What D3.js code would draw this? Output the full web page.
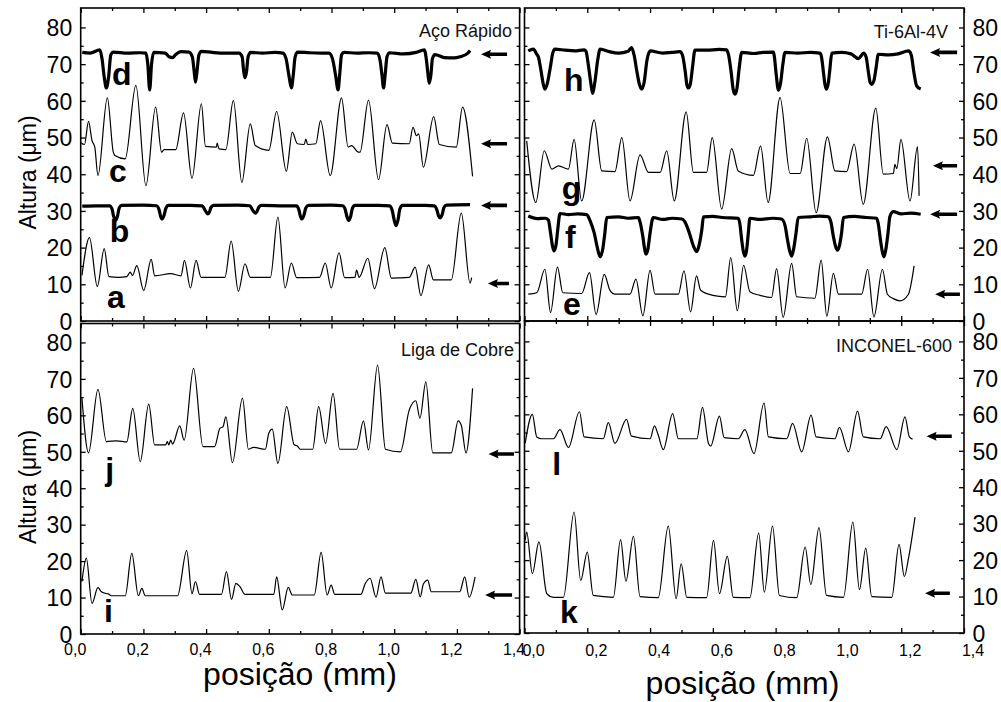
<!DOCTYPE html>
<html><head><meta charset="utf-8">
<script src="https://cdn.jsdelivr.net/npm/d3@7"></script>
<style>body{margin:0;background:#fff}svg{display:block}</style>
</head><body>
<svg id="c" width="1001" height="702"></svg>
<script>
// ---------------- DATA ----------------
const xMajor = [0,0.2,0.4,0.6,0.8,1.0,1.2,1.4];
const xMinor = [0.1,0.3,0.5,0.7,0.9,1.1,1.3];
const xTickLabels = ["0,0","0,2","0,4","0,6","0,8","1,0","1,2","1,4"];
const yMajor = [0,10,20,30,40,50,60,70,80];
const yMinor = [5,15,25,35,45,55,65,75];
const yTickLabels = ["0","10","20","30","40","50","60","70","80"];
const panelTitles = ["Aço Rápido","Ti-6Al-4V","Liga de Cobre","INCONEL-600"];
const xTitle = "posição (mm)";
const yTitle = "Altura (μm)";

// Aço Rápido
const traceA = [[0.004,12.4],[0.028,22.7],[0.053,9.4],[0.075,19.7],[0.090,12.1],[0.120,11.9],[0.147,12.1],[0.158,13.3],[0.165,12.4],[0.179,15.1],[0.201,8.3],[0.225,16.8],[0.236,12.3],[0.287,12.9],[0.320,12.3],[0.331,16.5],[0.350,9.0],[0.368,16.5],[0.384,11.9],[0.460,11.9],[0.480,21.8],[0.503,8.1],[0.524,15.6],[0.541,11.9],[0.605,11.9],[0.629,28.3],[0.652,9.0],[0.672,15.8],[0.689,11.8],[0.762,11.9],[0.780,15.8],[0.799,9.0],[0.824,18.6],[0.842,11.8],[0.875,11.9],[0.880,13.9],[0.888,11.9],[0.916,17.1],[0.937,8.8],[0.970,20.0],[0.991,11.7],[1.048,11.9],[1.067,14.7],[1.085,6.9],[1.110,15.3],[1.125,11.2],[1.182,11.2],[1.214,29.4],[1.242,10.3],[1.247,11.8]];
const traceB = [[0.005,31.3],[0.05,31.4],[0.092,31.4],[0.100,30.5],[0.105,28.5],[0.111,27.4],[0.117,28.5],[0.123,30.8],[0.130,31.5],[0.20,31.6],[0.242,31.4],[0.250,30.3],[0.255,28.5],[0.260,27.8],[0.266,28.8],[0.272,30.8],[0.280,31.5],[0.35,31.5],[0.388,31.4],[0.396,30.3],[0.401,29.6],[0.405,29.2],[0.410,29.6],[0.416,31.0],[0.424,31.5],[0.50,31.6],[0.540,31.4],[0.548,30.3],[0.553,29.7],[0.557,29.4],[0.562,29.8],[0.568,31.0],[0.576,31.5],[0.65,31.4],[0.688,31.4],[0.696,30.3],[0.701,28.5],[0.706,27.8],[0.712,28.8],[0.718,30.8],[0.726,31.5],[0.80,31.6],[0.836,31.4],[0.844,30.3],[0.849,28.5],[0.855,27.4],[0.861,28.5],[0.867,30.8],[0.875,31.5],[0.95,31.5],[0.986,31.4],[0.994,30.0],[1.000,27.5],[1.006,26.0],[1.012,27.5],[1.018,30.5],[1.026,31.5],[1.10,31.5],[1.128,31.4],[1.136,30.3],[1.141,28.8],[1.147,28.1],[1.153,29.0],[1.159,31.0],[1.167,31.6],[1.242,31.7]];
const traceC = [[0.0,48.6],[0.012,48.1],[0.025,54.4],[0.036,49.2],[0.045,47.4],[0.055,39.6],[0.085,60.8],[0.104,46.0],[0.109,45.1],[0.142,44.2],[0.176,64.2],[0.208,36.9],[0.239,58.3],[0.258,46.0],[0.266,46.7],[0.303,46.7],[0.328,56.7],[0.355,38.9],[0.385,59.2],[0.398,47.6],[0.433,47.4],[0.435,48.5],[0.441,46.9],[0.463,46.7],[0.487,60.1],[0.514,37.8],[0.541,53.7],[0.557,47.8],[0.600,46.5],[0.625,57.1],[0.656,40.8],[0.675,51.5],[0.691,48.3],[0.713,48.1],[0.718,49.6],[0.724,48.1],[0.750,48.3],[0.765,54.6],[0.796,39.6],[0.832,60.8],[0.853,47.4],[0.864,47.8],[0.886,46.0],[0.891,46.0],[0.918,60.2],[0.950,38.5],[0.977,53.5],[0.994,48.5],[1.048,48.3],[1.060,52.8],[1.071,50.5],[1.078,51.0],[1.093,41.9],[1.126,55.7],[1.144,48.1],[1.198,47.4],[1.218,58.3],[1.250,39.4]];
const traceD = [[0.005,73.2],[0.03,73.0],[0.061,73.9],[0.068,71.5],[0.075,66.5],[0.082,63.5],[0.089,66.5],[0.096,72.5],[0.104,73.3],[0.15,73.0],[0.19,73.1],[0.208,73.0],[0.214,70.0],[0.220,63.0],[0.226,70.0],[0.233,73.2],[0.27,73.0],[0.282,72.0],[0.293,71.8],[0.303,72.6],[0.32,73.4],[0.345,73.3],[0.356,72.0],[0.362,68.0],[0.366,65.1],[0.371,68.0],[0.377,72.5],[0.385,73.5],[0.42,73.2],[0.46,73.0],[0.505,73.0],[0.515,72.0],[0.520,68.0],[0.524,66.3],[0.529,68.0],[0.534,72.0],[0.542,73.2],[0.58,73.0],[0.62,73.2],[0.645,73.0],[0.655,71.5],[0.664,67.0],[0.672,63.5],[0.678,67.0],[0.684,72.0],[0.692,73.3],[0.73,73.1],[0.77,73.0],[0.792,73.0],[0.803,71.5],[0.813,67.0],[0.821,63.0],[0.826,67.0],[0.832,72.5],[0.840,73.2],[0.88,73.0],[0.92,73.1],[0.946,73.0],[0.955,71.0],[0.961,67.0],[0.966,63.5],[0.971,67.0],[0.977,72.0],[0.985,73.1],[1.03,72.8],[1.07,73.2],[1.096,73.9],[1.103,71.0],[1.108,67.0],[1.112,64.8],[1.117,67.0],[1.122,71.5],[1.130,72.6],[1.16,71.8],[1.19,71.7],[1.21,72.0],[1.235,73.0],[1.242,73.7]];
// Ti-6Al-4V
const traceE = [[0.012,7.3],[0.039,7.7],[0.065,14.1],[0.083,2.3],[0.105,14.7],[0.122,7.7],[0.182,7.5],[0.207,13.2],[0.228,1.8],[0.254,12.7],[0.272,8.4],[0.288,7.3],[0.336,7.3],[0.355,11.4],[0.377,1.4],[0.400,13.8],[0.416,7.3],[0.490,7.3],[0.508,13.7],[0.529,2.5],[0.548,12.3],[0.561,8.4],[0.600,7.0],[0.640,6.6],[0.657,17.3],[0.678,2.8],[0.698,15.2],[0.718,8.0],[0.750,7.0],[0.787,6.4],[0.803,14.3],[0.824,1.0],[0.851,15.7],[0.867,6.6],[0.925,6.2],[0.945,16.6],[0.963,1.3],[0.984,13.0],[1.000,7.3],[1.074,7.3],[1.093,14.1],[1.113,1.1],[1.140,14.1],[1.156,7.3],[1.175,6.1],[1.196,5.5],[1.223,7.3],[1.241,15.0]];
const traceF = [[0.012,28.6],[0.04,27.9],[0.066,28.0],[0.076,27.5],[0.083,24.0],[0.089,20.5],[0.094,19.1],[0.100,20.5],[0.106,25.0],[0.113,29.3],[0.14,29.0],[0.17,29.2],[0.198,29.0],[0.209,27.3],[0.222,24.0],[0.232,20.0],[0.241,17.5],[0.249,19.5],[0.256,24.0],[0.262,28.2],[0.30,28.4],[0.33,28.0],[0.363,28.2],[0.368,27.0],[0.377,23.0],[0.383,19.5],[0.387,18.2],[0.393,19.5],[0.400,24.0],[0.410,28.2],[0.44,27.7],[0.47,28.0],[0.501,27.8],[0.511,27.0],[0.525,24.0],[0.538,20.5],[0.549,18.9],[0.557,21.0],[0.565,25.0],[0.570,28.4],[0.60,28.5],[0.63,28.2],[0.681,28.0],[0.686,26.5],[0.692,22.0],[0.697,19.0],[0.702,17.7],[0.707,19.0],[0.713,24.0],[0.718,28.0],[0.75,27.7],[0.79,28.0],[0.819,27.8],[0.830,26.0],[0.838,22.0],[0.845,19.0],[0.851,17.7],[0.857,19.5],[0.865,24.0],[0.872,28.2],[0.91,28.4],[0.94,28.6],[0.968,28.4],[0.976,27.0],[0.984,23.0],[0.991,20.3],[0.997,19.3],[1.003,20.5],[1.010,24.0],[1.016,28.2],[1.05,28.5],[1.09,28.2],[1.122,28.0],[1.127,26.5],[1.134,22.0],[1.140,18.8],[1.145,17.5],[1.151,19.5],[1.158,24.0],[1.164,28.5],[1.175,29.8],[1.20,29.2],[1.23,29.4],[1.262,29.1]];
const traceG = [[0.007,49.1],[0.036,32.3],[0.063,46.4],[0.087,41.4],[0.108,42.3],[0.140,41.4],[0.158,49.5],[0.182,32.7],[0.222,54.8],[0.246,40.9],[0.288,40.7],[0.310,50.0],[0.336,32.7],[0.368,45.3],[0.395,40.5],[0.432,40.5],[0.453,46.4],[0.477,32.7],[0.515,57.0],[0.538,40.5],[0.580,40.5],[0.598,50.0],[0.628,30.5],[0.660,47.0],[0.681,40.9],[0.729,39.7],[0.752,47.7],[0.776,32.3],[0.814,60.9],[0.846,40.2],[0.878,40.2],[0.899,49.8],[0.929,29.5],[0.965,50.2],[0.989,40.9],[1.026,40.7],[1.050,48.2],[1.079,31.8],[1.119,58.0],[1.143,40.0],[1.175,40.2],[1.180,42.7],[1.186,41.5],[1.199,49.5],[1.228,32.7],[1.252,47.5],[1.257,34.1]];
const traceH = [[0.012,73.6],[0.028,74.1],[0.039,72.7],[0.044,72.0],[0.052,68.5],[0.060,64.5],[0.065,63.2],[0.072,64.5],[0.082,69.0],[0.090,73.0],[0.097,74.1],[0.13,73.8],[0.16,73.6],[0.19,73.9],[0.196,73.5],[0.203,70.0],[0.211,65.0],[0.217,62.0],[0.224,65.0],[0.233,71.0],[0.241,74.1],[0.27,73.4],[0.30,73.0],[0.33,73.5],[0.341,74.5],[0.349,72.5],[0.358,68.0],[0.366,64.5],[0.373,63.2],[0.381,65.0],[0.390,71.0],[0.400,73.6],[0.44,73.0],[0.47,73.2],[0.495,73.4],[0.503,72.5],[0.512,68.0],[0.517,64.5],[0.522,63.5],[0.528,64.5],[0.535,69.0],[0.543,73.8],[0.58,73.8],[0.62,74.0],[0.644,73.9],[0.650,72.5],[0.658,68.0],[0.665,63.0],[0.671,61.8],[0.677,63.5],[0.684,69.0],[0.692,73.2],[0.73,72.9],[0.76,73.2],[0.793,73.3],[0.796,72.0],[0.802,67.0],[0.809,62.9],[0.816,65.0],[0.823,70.0],[0.830,73.2],[0.87,73.0],[0.91,73.2],[0.941,73.0],[0.946,72.0],[0.952,68.0],[0.957,64.5],[0.961,63.2],[0.967,64.5],[0.972,68.0],[0.979,73.0],[1.01,73.2],[1.04,72.8],[1.064,71.5],[1.08,73.0],[1.088,72.0],[1.096,67.5],[1.101,65.0],[1.106,64.5],[1.113,65.5],[1.120,69.0],[1.127,72.7],[1.16,72.5],[1.19,72.8],[1.223,73.6],[1.232,72.5],[1.240,68.0],[1.249,64.1],[1.262,63.2]];
// Liga de Cobre
const traceI = [[0.004,14.4],[0.018,20.8],[0.036,8.4],[0.055,12.7],[0.066,11.6],[0.077,11.2],[0.088,11.0],[0.098,10.5],[0.142,10.5],[0.163,22.1],[0.184,10.5],[0.195,12.5],[0.206,10.5],[0.309,10.5],[0.338,22.9],[0.355,11.0],[0.366,14.4],[0.379,10.9],[0.449,10.9],[0.465,17.1],[0.481,9.5],[0.495,13.9],[0.508,13.0],[0.524,10.9],[0.616,10.9],[0.625,15.7],[0.643,6.6],[0.662,12.8],[0.675,10.7],[0.745,10.7],[0.767,22.4],[0.786,10.7],[0.799,13.4],[0.810,10.9],[0.894,10.9],[0.907,13.7],[0.923,15.3],[0.942,10.1],[0.958,15.7],[0.972,11.2],[1.053,11.2],[1.069,15.0],[1.083,10.2],[1.093,13.7],[1.107,14.8],[1.118,11.6],[1.209,11.6],[1.225,15.7],[1.239,10.1],[1.258,15.7]];
const traceJ = [[0.004,64.7],[0.025,49.7],[0.055,67.1],[0.082,52.8],[0.115,53.0],[0.147,52.7],[0.166,61.9],[0.190,47.3],[0.217,63.1],[0.236,51.9],[0.271,51.9],[0.276,52.8],[0.281,51.9],[0.287,53.2],[0.293,52.1],[0.316,57.1],[0.330,53.2],[0.360,72.9],[0.390,51.4],[0.427,51.4],[0.444,56.4],[0.454,56.9],[0.463,59.6],[0.484,47.0],[0.516,64.7],[0.535,50.7],[0.551,51.2],[0.589,50.7],[0.600,55.1],[0.611,56.2],[0.629,46.8],[0.657,62.4],[0.681,51.9],[0.691,51.6],[0.700,50.7],[0.740,50.7],[0.759,62.4],[0.781,52.3],[0.805,66.0],[0.826,50.7],[0.880,50.7],[0.902,58.5],[0.918,50.5],[0.947,73.8],[0.972,50.7],[1.020,50.0],[1.048,61.5],[1.069,64.0],[1.082,59.2],[1.101,69.2],[1.123,49.7],[1.182,49.7],[1.204,58.5],[1.214,57.3],[1.229,49.7],[1.250,67.4]];
// INCONEL-600
const traceK = [[0.002,25.4],[0.007,27.7],[0.025,16.3],[0.046,25.0],[0.071,10.8],[0.092,9.8],[0.124,9.8],[0.158,33.2],[0.179,14.4],[0.200,22.2],[0.219,10.3],[0.283,9.8],[0.306,25.6],[0.323,14.2],[0.347,26.5],[0.368,10.0],[0.426,9.7],[0.458,29.3],[0.483,9.4],[0.499,19.0],[0.517,9.8],[0.580,9.7],[0.602,25.4],[0.621,10.8],[0.646,21.0],[0.665,9.8],[0.718,9.7],[0.746,27.4],[0.764,11.2],[0.790,29.3],[0.812,10.3],[0.867,9.7],[0.894,23.6],[0.912,13.3],[0.938,28.9],[0.962,10.3],[1.016,9.8],[1.046,30.4],[1.067,11.9],[1.087,23.3],[1.106,10.0],[1.170,9.8],[1.193,24.3],[1.210,15.5],[1.223,20.4],[1.244,31.8]];
const traceL = [[0.002,52.0],[0.025,60.0],[0.039,53.8],[0.055,53.3],[0.092,53.3],[0.113,55.8],[0.140,50.9],[0.175,60.7],[0.190,53.8],[0.251,53.3],[0.267,57.7],[0.288,52.0],[0.325,58.6],[0.341,54.0],[0.400,53.3],[0.414,56.8],[0.426,54.3],[0.442,50.3],[0.472,60.2],[0.490,53.3],[0.549,53.3],[0.567,61.9],[0.586,52.0],[0.593,51.3],[0.621,59.5],[0.636,53.6],[0.681,53.3],[0.702,55.8],[0.731,49.2],[0.763,63.1],[0.777,53.8],[0.835,53.3],[0.854,57.5],[0.883,49.7],[0.913,59.8],[0.929,53.8],[0.989,53.3],[1.003,56.4],[1.032,49.7],[1.061,60.9],[1.079,53.8],[1.133,53.3],[1.152,56.6],[1.186,50.3],[1.212,59.3],[1.226,53.8],[1.236,53.2]];

// arrows: [tip x, tail x, level]
const arrowsAco = [[1.277,1.360,72.7],[1.277,1.360,48.3],[1.277,1.360,31.5],[1.299,1.366,10.2]];
const arrowsTi = [[1.292,1.378,73.2],[1.301,1.378,42.3],[1.292,1.378,29.1],[1.308,1.387,7.3]];
const arrowsCobre = [[1.301,1.382,49.4],[1.290,1.376,10.7]];
const arrowsInconel = [[1.281,1.361,54.0],[1.276,1.355,10.9]];

// trace letters: [letter, x, y]
const lettersAco = [["d",0.100,64.4],["c",0.090,37.8],["b",0.093,21.5],["a",0.084,3.5]];
const lettersTi = [["h",0.126,62.8],["g",0.119,33.2],["f",0.129,19.8],["e",0.123,1.6]];
const lettersCobre = [["j",0.078,42.2],["i",0.074,3.3]];
const lettersInconel = [["l",0.088,43.3],["k",0.113,2.7]];

// ---------------- LAYOUT ----------------
const FONT = "'Liberation Sans', Arial, Helvetica, sans-serif";
const panels = [
  {left:80.7, right:519.6, top:8, bottom:321, yMax:85.3, yLab:"left", xLab:false, title:panelTitles[0], titleX:512, titleY:37,
   thin:[traceA,traceC], thick:[traceB,traceD], arrows:arrowsAco, letters:lettersAco},
  {left:524.5, right:964, top:8, bottom:321, yMax:85.3, yLab:"right", xLab:false, title:panelTitles[1], titleX:948, titleY:38,
   thin:[traceE,traceG], thick:[traceF,traceH], arrows:arrowsTi, letters:lettersTi},
  {left:80.7, right:519.6, top:323.5, bottom:634, yMax:85.2, yLab:"left", xLab:true, xLabDx:-6, xLabPad:9.6, title:panelTitles[2], titleX:514, titleY:356,
   thin:[traceI,traceJ], thick:[], arrows:arrowsCobre, letters:lettersCobre},
  {left:524.5, right:964, top:321, bottom:633, yMax:85.6, yLab:"right", xLab:true, xLabDx:8.5, xLabPad:12, title:panelTitles[3], titleX:952, titleY:351.5,
   thin:[traceK,traceL], thick:[], arrows:arrowsInconel, letters:lettersInconel}
];

const svg = d3.select("#c");
svg.append("rect").attr("width",1001).attr("height",702).attr("fill","#fff");

function tickAxis(g, axis, tr){
  const a = g.append("g").attr("transform",tr).call(axis);
  a.select(".domain").remove();
  a.selectAll("line").attr("stroke","#000").attr("stroke-width",1.3);
  return a;
}

panels.forEach(p=>{
  const x = d3.scaleLinear().domain([0,1.4]).range([p.left,p.right]);
  const y = d3.scaleLinear().domain([0,p.yMax]).range([p.bottom,p.top]);
  const g = svg.append("g");

  // ticks (inward)
  tickAxis(g, d3.axisBottom(x).tickValues(xMajor).tickSize(-5).tickFormat(""), `translate(0,${p.bottom})`);
  tickAxis(g, d3.axisBottom(x).tickValues(xMinor).tickSize(-3).tickFormat(""), `translate(0,${p.bottom})`);
  tickAxis(g, d3.axisTop(x).tickValues(xMajor).tickSize(-5).tickFormat(""), `translate(0,${p.top})`);
  tickAxis(g, d3.axisTop(x).tickValues(xMinor).tickSize(-3).tickFormat(""), `translate(0,${p.top})`);
  tickAxis(g, d3.axisLeft(y).tickValues(yMajor).tickSize(-5).tickFormat(""), `translate(${p.left},0)`);
  tickAxis(g, d3.axisLeft(y).tickValues(yMinor).tickSize(-3).tickFormat(""), `translate(${p.left},0)`);
  tickAxis(g, d3.axisRight(y).tickValues(yMajor).tickSize(-5).tickFormat(""), `translate(${p.right},0)`);
  tickAxis(g, d3.axisRight(y).tickValues(yMinor).tickSize(-3).tickFormat(""), `translate(${p.right},0)`);

  // frame
  g.append("rect").attr("x",p.left).attr("y",p.top).attr("width",p.right-p.left).attr("height",p.bottom-p.top)
    .attr("fill","none").attr("stroke","#000").attr("stroke-width",1.6);

  // y labels
  const yl = p.yLab==="left"
    ? g.append("g").attr("transform",`translate(${p.left},0)`).call(d3.axisLeft(y).tickValues(yMajor).tickSize(0).tickPadding(8.5).tickFormat((d,i)=>yTickLabels[i]))
    : g.append("g").attr("transform",`translate(${p.right},0)`).call(d3.axisRight(y).tickValues(yMajor).tickSize(0).tickPadding(8.5).tickFormat((d,i)=>yTickLabels[i]));
  yl.select(".domain").remove();
  yl.attr("font-size",23).attr("font-family",FONT);
  yl.selectAll("text").attr("fill","#000").attr("dy","0.36em");

  // x labels
  if (p.xLab){
    const xl = g.append("g").attr("transform",`translate(${p.xLabDx},${p.bottom})`)
      .call(d3.axisBottom(x).tickValues(xMajor).tickSize(0).tickPadding(p.xLabPad).tickFormat((d,i)=>xTickLabels[i]));
    xl.select(".domain").remove();
    xl.attr("font-size",16).attr("font-family",FONT);
    xl.selectAll("text").attr("fill","#000");
  }

  // traces
  const line = d3.line().x(d=>x(d[0])).y(d=>y(d[1])).curve(d3.curveMonotoneX);
  p.thin.forEach(t=>g.append("path").attr("d",line(t)).attr("fill","none").attr("stroke","#000").attr("stroke-width",1.2).attr("stroke-linejoin","round"));
  p.thick.forEach(t=>g.append("path").attr("d",line(t)).attr("fill","none").attr("stroke","#000").attr("stroke-width",3.2).attr("stroke-linejoin","round"));

  // arrows
  p.arrows.forEach(a=>{
    const tx = x(a[0]), ta = x(a[1]), yy = y(a[2]);
    const path = `M${tx},${yy} L${tx+10},${yy-4.5} L${tx+9},${yy-1.8} L${ta},${yy-1.8} L${ta},${yy+1.8} L${tx+9},${yy+1.8} L${tx+10},${yy+4.5} Z`;
    g.append("path").attr("d",path).attr("fill","#000");
  });

  // letters
  p.letters.forEach(l=>{
    g.append("text").attr("x",x(l[1])).attr("y",y(l[2])).text(l[0])
      .attr("font-family",FONT).attr("font-weight","bold").attr("font-size",32).attr("fill","#000");
  });

  // title
  g.append("text").attr("x",p.titleX).attr("y",p.titleY).attr("text-anchor","end").text(p.title)
    .attr("font-family",FONT).attr("font-size",18).attr("fill","#111");
});

// axis titles
svg.append("text").attr("x",300).attr("y",685).attr("text-anchor","middle").text(xTitle)
  .attr("font-family",FONT).attr("font-size",32).attr("fill","#000");
svg.append("text").attr("x",742.5).attr("y",694).attr("text-anchor","middle").text(xTitle)
  .attr("font-family",FONT).attr("font-size",32).attr("fill","#000");
[172.5, 487].forEach(cy=>{
  svg.append("text").attr("transform",`translate(36,${cy}) rotate(-90)`).attr("text-anchor","middle").text(yTitle)
    .attr("font-family",FONT).attr("font-size",23).attr("fill","#000");
});
</script>
</body></html>
